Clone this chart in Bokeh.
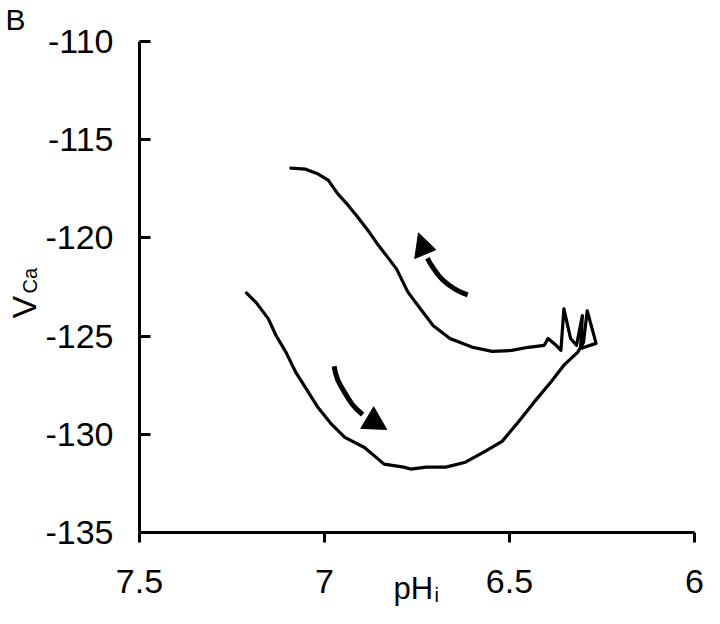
import math
from bokeh.plotting import figure
from bokeh.models import Range1d, FixedTicker, Label
from bokeh.embed import file_html
from bokeh.resources import INLINE

# ---- data: intracellular pH vs V_Ca trace (lower branch, turn-around, upper branch)
ph = [7.211, 7.184, 7.152, 7.131, 7.104, 7.078, 7.051, 7.017, 6.980, 6.945,
      6.892, 6.839, 6.786, 6.767, 6.725, 6.672, 6.619, 6.566, 6.520, 6.475,
      6.433, 6.388, 6.353, 6.316, 6.300,
      6.290, 6.266, 6.308, 6.303, 6.319, 6.335, 6.353, 6.361, 6.374, 6.396, 6.406,
      6.449, 6.494, 6.547, 6.600, 6.661, 6.706, 6.741, 6.775, 6.805, 6.831,
      6.858, 6.884, 6.911, 6.937, 6.964, 6.990, 7.017, 7.051, 7.091]
vca = [-122.80, -123.31, -124.11, -124.97, -125.83, -126.83, -127.64, -128.65, -129.51, -130.16,
       -130.67, -131.52, -131.67, -131.77, -131.67, -131.67, -131.42, -130.87, -130.36, -129.35,
       -128.35, -127.34, -126.48, -125.83, -125.32,
       -123.71, -125.37, -125.63, -123.96, -125.47, -125.12, -123.61, -125.73, -125.47, -125.12, -125.47,
       -125.57, -125.73, -125.78, -125.57, -125.12, -124.47, -123.61, -122.75, -121.59, -120.94,
       -120.28, -119.58, -118.92, -118.32, -117.76, -117.06, -116.75, -116.50, -116.45]

x_ticks = [7.5, 7, 6.5, 6]
x_tick_labels = ["7.5", "7", "6.5", "6"]
y_ticks = [-135, -130, -125, -120, -115, -110]
y_tick_labels = ["-135", "-130", "-125", "-120", "-115", "-110"]
x_lo, x_hi = 6.0, 7.5
y_lo, y_hi = -135.0, -110.0

# direction arrows (shaft path + head triangle), in data units
up_shaft_ph = [6.613, 6.632, 6.648, 6.664, 6.680, 6.693, 6.704, 6.714, 6.722]
up_shaft_v = [-122.90, -122.76, -122.60, -122.40, -122.15, -121.88, -121.59, -121.31, -121.04]
up_head_ph = [6.746, 6.756, 6.699]
up_head_v = [-119.75, -121.05, -120.60]

down_shaft_ph = [6.974, 6.970, 6.964, 6.955, 6.945, 6.935, 6.924, 6.911, 6.897]
down_shaft_v = [-126.53, -126.90, -127.24, -127.57, -127.89, -128.20, -128.50, -128.76, -129.00]
down_head_ph = [6.832, 6.902, 6.867]
down_head_v = [-129.75, -129.70, -128.60]

# ---- layout: the frame fills the canvas; the axes are pinned at the data edges
W, H = 704, 608
AX_LEFT, AX_RIGHT, AX_TOP, AX_BOTTOM = 139, 694, 41, 532
FONT = "Liberation Sans"

ppx = (AX_RIGHT - AX_LEFT) / (x_hi - x_lo)
ppy = (AX_BOTTOM - AX_TOP) / (y_hi - y_lo)
x_range = Range1d(start=x_hi + AX_LEFT / ppx, end=x_lo - (W - AX_RIGHT) / ppx)
y_range = Range1d(start=y_lo - (H - AX_BOTTOM) / ppy, end=y_hi + AX_TOP / ppy)

p = figure(width=W, height=H, output_backend="svg", toolbar_location=None,
           x_range=x_range, y_range=y_range, min_border=0,
           min_border_left=0, min_border_right=0, min_border_top=0, min_border_bottom=0)
p.title = None
p.outline_line_color = None
p.xgrid.visible = False
p.ygrid.visible = False
p.background_fill_color = "white"
p.border_fill_color = "white"

p.line(ph, vca, line_color="black", line_width=3.2, line_join="round", line_cap="round")

p.line(up_shaft_ph, up_shaft_v, line_color="black", line_width=5, line_join="round")
p.patch(up_head_ph, up_head_v, fill_color="black", line_color="black", line_width=1)
p.line(down_shaft_ph, down_shaft_v, line_color="black", line_width=5, line_join="round")
p.patch(down_head_ph, down_head_v, fill_color="black", line_color="black", line_width=1)

for ax in (p.xaxis[0], p.yaxis[0]):
    ax.axis_line_width = 3
    ax.axis_line_color = "black"
    ax.major_tick_line_width = 3
    ax.major_tick_line_color = "black"
    ax.minor_tick_line_color = None
    ax.major_label_text_font = FONT
    ax.major_label_text_font_size = "34px"
    ax.major_label_text_color = "black"
    ax.axis_label = None

p.xaxis.ticker = FixedTicker(ticks=x_ticks)
p.xaxis.major_label_overrides = dict(zip(x_ticks, x_tick_labels))
p.xaxis.bounds = (x_lo, x_hi)
p.xaxis.fixed_location = y_lo
p.xaxis.major_tick_out = 10
p.xaxis.major_tick_in = 0
p.xaxis.major_label_standoff = 27

p.yaxis.ticker = FixedTicker(ticks=y_ticks)
p.yaxis.major_label_overrides = dict(zip(y_ticks, y_tick_labels))
p.yaxis.bounds = (y_lo, y_hi)
p.yaxis.fixed_location = x_hi
p.yaxis.major_tick_out = 0
p.yaxis.major_tick_in = 11
p.yaxis.major_label_standoff = 26

# text around the axes (screen units of the full-canvas frame), anchored at the text's middle
def add_text(txt, cx, cy, size, angle=0):
    p.add_layout(Label(x=cx, y=H - cy, x_units="screen", y_units="screen",
                       text=txt, text_font=FONT, text_font_size=size, text_color="black",
                       angle=angle, text_align="left", text_baseline="middle"))

add_text("B", 5, 19, "30px")
add_text("V", 23, 318, "34px", angle=math.pi / 2)
add_text("Ca", 29, 293, "20px", angle=math.pi / 2)
add_text("pH", 393, 588, "31px")
add_text("i", 434, 594, "20px")

open("out.html", "w").write(file_html(p, INLINE))
